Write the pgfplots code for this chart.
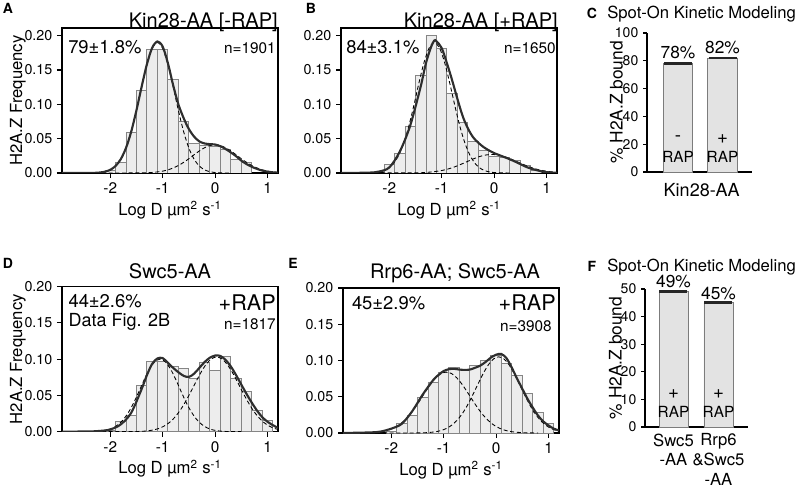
\documentclass[border=0pt]{standalone}
\usepackage{pgfplots}
\pgfplotsset{compat=1.18}
\usepackage{fontspec}
\setmainfont{TeX Gyre Heros}
\definecolor{barfill}{HTML}{EDEDED}
\definecolor{baredge}{HTML}{858585}
\definecolor{fitline}{HTML}{2E2E2E}
\definecolor{cbar}{HTML}{E3E3E3}
\definecolor{cedge}{HTML}{7C7C7C}

\pgfplotsset{
  hist/.style={
    scale only axis, width=162pt, height=108.75pt,
    xmin=-2.92, xmax=1.2, ymin=0,
    xtick={-2,-1,0,1}, ytick={0,0.05,0.10,0.15,0.20},
    scaled y ticks=false,
    tick pos=left, tick align=outside, major tick length=3.75pt,
    axis line style={line width=1.1pt},
    every tick/.style={black, line width=0.8pt},
    /pgf/number format/assume math mode=true,
    yticklabel style={font=\fontsize{10.7}{12}\selectfont, /pgf/number format/.cd, fixed, fixed zerofill, precision=2},
    xticklabel style={font=\fontsize{11.5}{13}\selectfont},
    xlabel={Log D µm\textsuperscript{2} s\textsuperscript{-1}},
    ylabel={H2A.Z Frequency},
    label style={font=\fontsize{12.5}{14}\selectfont},
    xlabel style={at={(axis description cs:0.5,-0.255)}, anchor=center},
    ylabel style={at={(axis description cs:-0.204,0.5)}, anchor=center},
    anchor=south west,
  },
  histbar/.style={ybar, bar width=0.2, fill=barfill, draw=baredge, line width=0.65pt},
  compcurve/.style={black, line width=0.65pt, smooth, no markers, dash pattern=on 3pt off 2pt},
  fitcurve/.style={fitline, line width=1.6pt, smooth, no markers},
  spot/.style={
    scale only axis, anchor=south west, ymin=0,
    axis lines=left, axis line style={-, line width=1pt},
    x axis line style={line width=1.6pt},
    tick align=outside, major tick length=3pt,
    every tick/.style={black, line width=0.8pt},
    /pgf/number format/assume math mode=true,
    ticklabel style={font=\fontsize{10.5}{12}\selectfont},
    ylabel={\% H2A.Z bound},
    label style={font=\fontsize{13}{15}\selectfont},
    clip=false,
  },
  spotbar/.style={ybar, fill=cbar, draw=cedge, line width=0.7pt,
    error bars/.cd, y dir=both, y explicit, error mark=|,
    error bar style={line width=1pt, black!80},
    error mark options={line width=1.1pt, mark size=10.5pt, black!85}},
}

\begin{document}
\begin{tikzpicture}
\useasboundingbox (0,0) rectangle (597pt,366.75pt);

% ---------------- A ----------------
\begin{axis}[hist, at={(46.5pt,237pt)}, ymax=0.2112]
\addplot[histbar] coordinates {(-2.0,0.004) (-1.8,0.016) (-1.6,0.059) (-1.4,0.120) (-1.2,0.180) (-1.0,0.180) (-0.8,0.136) (-0.6,0.075) (-0.4,0.043) (-0.2,0.040) (0.0,0.038) (0.2,0.034) (0.4,0.020) (0.6,0.016)};
\addplot[compcurve] coordinates {(-2.92,0) (-2.4,0.0001) (-2.3,0.0002) (-2.2,0.0007) (-2.1,0.0019) (-2.0,0.0046) (-1.9,0.0101) (-1.8,0.0200) (-1.7,0.0363) (-1.6,0.0602) (-1.5,0.0912) (-1.4,0.1258) (-1.3,0.1581) (-1.2,0.1815) (-1.1,0.190) (-1.0,0.1815) (-0.9,0.1581) (-0.8,0.1258) (-0.7,0.0912) (-0.6,0.0602) (-0.5,0.0363) (-0.4,0.0200) (-0.3,0.0101) (-0.2,0.0046) (-0.1,0.0019) (0.0,0.0007) (0.1,0.0002) (0.3,0)};
\addplot[compcurve] coordinates {(-2.92,0) (-1.6,0.0001) (-1.4,0.0002) (-1.3,0.0004) (-1.2,0.0008) (-1.1,0.0016) (-1.0,0.0027) (-0.9,0.0046) (-0.8,0.0073) (-0.7,0.0109) (-0.6,0.0155) (-0.5,0.0208) (-0.4,0.0266) (-0.3,0.0321) (-0.2,0.0368) (-0.1,0.0399) (0.0,0.041) (0.1,0.0399) (0.2,0.0368) (0.3,0.0321) (0.4,0.0266) (0.5,0.0208) (0.6,0.0155) (0.7,0.0109) (0.8,0.0073) (0.9,0.0046) (1.0,0.0027) (1.1,0.0016) (1.2,0.0008)};
\addplot[fitcurve] coordinates {(-2.92,0) (-2.5,0.0000) (-2.4,0.0001) (-2.3,0.0002) (-2.2,0.0007) (-2.1,0.0019) (-2.0,0.0046) (-1.9,0.0101) (-1.8,0.0200) (-1.7,0.0363) (-1.6,0.0602) (-1.5,0.0913) (-1.4,0.1260) (-1.3,0.1585) (-1.2,0.1823) (-1.1,0.1916) (-1.0,0.1842) (-0.9,0.160) (-0.8,0.128) (-0.7,0.100) (-0.6,0.080) (-0.5,0.064) (-0.4,0.053) (-0.3,0.046) (-0.2,0.043) (-0.1,0.042) (0.0,0.0415) (0.1,0.039) (0.2,0.035) (0.3,0.030) (0.4,0.0245) (0.5,0.018) (0.6,0.013) (0.7,0.009) (0.8,0.006) (0.9,0.0035) (1.0,0.002) (1.1,0.001) (1.2,0.0005)};
\end{axis}

% ---------------- B ----------------
\begin{axis}[hist, at={(255.75pt,237pt)}, ymax=0.2112, ylabel={}]
\addplot[histbar] coordinates {(-2.0,0.012) (-1.8,0.029) (-1.6,0.0685) (-1.4,0.142) (-1.2,0.200) (-1.0,0.181) (-0.8,0.116) (-0.6,0.0734) (-0.4,0.0465) (-0.2,0.033) (0.0,0.024) (0.2,0.022) (0.4,0.018) (0.6,0.011) (0.8,0.004)};
\addplot[compcurve] coordinates {(-2.92,0) (-2.34,0.0004) (-2.24,0.0010) (-2.14,0.0025) (-2.04,0.0057) (-1.94,0.0119) (-1.84,0.0228) (-1.74,0.0401) (-1.64,0.0644) (-1.54,0.0952) (-1.44,0.129) (-1.34,0.160) (-1.24,0.182) (-1.14,0.190) (-1.04,0.182) (-0.94,0.160) (-0.84,0.129) (-0.74,0.0952) (-0.64,0.0644) (-0.54,0.0401) (-0.44,0.0228) (-0.34,0.0119) (-0.24,0.0057) (-0.14,0.0025) (-0.04,0.0010) (0.06,0.0004) (0.3,0)};
\addplot[compcurve] coordinates {(-2.92,0) (-1.54,0.0002) (-1.34,0.0007) (-1.24,0.0012) (-1.14,0.0020) (-1.04,0.0031) (-0.94,0.0046) (-0.84,0.0067) (-0.74,0.0093) (-0.64,0.0124) (-0.54,0.0157) (-0.44,0.0191) (-0.34,0.0222) (-0.24,0.0248) (-0.14,0.0264) (-0.04,0.0270) (0.06,0.0264) (0.16,0.0248) (0.26,0.0222) (0.36,0.0191) (0.46,0.0157) (0.56,0.0124) (0.66,0.0093) (0.76,0.0067) (0.86,0.0046) (0.96,0.0031) (1.06,0.0020) (1.16,0.0012)};
\addplot[fitcurve] coordinates {(-2.92,0) (-2.4,0.0005) (-2.2,0.002) (-2.0,0.008) (-1.8,0.031) (-1.6,0.069) (-1.4,0.126) (-1.3,0.160) (-1.2,0.184) (-1.14,0.193) (-1.1,0.192) (-1.0,0.182) (-0.9,0.160) (-0.8,0.135) (-0.7,0.108) (-0.6,0.083) (-0.5,0.065) (-0.4,0.052) (-0.3,0.044) (-0.2,0.0377) (-0.1,0.033) (0.0,0.029) (0.1,0.026) (0.2,0.023) (0.3,0.020) (0.4,0.0166) (0.5,0.013) (0.6,0.0093) (0.7,0.0065) (0.8,0.0044) (0.9,0.0025) (1.0,0.0012) (1.2,0.0003)};
\end{axis}

% ---------------- D ----------------
\begin{axis}[hist, at={(46.5pt,43pt)}, ymax=0.2]
\addplot[histbar] coordinates {(-2.0,0.002) (-1.8,0.0139) (-1.6,0.0218) (-1.4,0.0635) (-1.2,0.0968) (-1.0,0.0968) (-0.8,0.090) (-0.6,0.0866) (-0.4,0.074) (-0.2,0.096) (0.0,0.085) (0.2,0.1038) (0.4,0.0728) (0.6,0.0551) (0.8,0.0288) (1.0,0.0149)};
\addplot[compcurve] coordinates {(-2.92,0) (-2.35,0.0002) (-2.25,0.0005) (-2.15,0.0012) (-2.05,0.0026) (-1.95,0.0052) (-1.85,0.0097) (-1.75,0.0167) (-1.65,0.0269) (-1.55,0.0401) (-1.45,0.0557) (-1.35,0.0720) (-1.25,0.0864) (-1.15,0.0964) (-1.05,0.1000) (-0.95,0.0964) (-0.85,0.0864) (-0.75,0.0720) (-0.65,0.0557) (-0.55,0.0401) (-0.45,0.0269) (-0.35,0.0167) (-0.25,0.0097) (-0.15,0.0052) (-0.05,0.0026) (0.05,0.0012) (0.15,0.0005) (0.25,0.0002) (0.5,0)};
\addplot[compcurve] coordinates {(-2.92,0) (-1.8,0.0000) (-1.47,0.0003) (-1.37,0.0006) (-1.27,0.0013) (-1.17,0.0025) (-1.07,0.0045) (-0.97,0.0078) (-0.87,0.0127) (-0.77,0.0197) (-0.67,0.0290) (-0.57,0.0407) (-0.47,0.0540) (-0.37,0.0682) (-0.27,0.0817) (-0.17,0.0929) (-0.07,0.1004) (0.03,0.1030) (0.13,0.1004) (0.23,0.0929) (0.33,0.0817) (0.43,0.0682) (0.53,0.0540) (0.63,0.0407) (0.73,0.0290) (0.83,0.0197) (0.93,0.0127) (1.03,0.0078) (1.13,0.0045) (1.23,0.0025)};
\addplot[fitcurve] coordinates {(-2.92,0) (-2.4,0.0003) (-2.2,0.001) (-2.0,0.003) (-1.8,0.010) (-1.6,0.026) (-1.4,0.059) (-1.3,0.078) (-1.2,0.0936) (-1.1,0.101) (-1.0,0.1015) (-0.9,0.095) (-0.8,0.088) (-0.7,0.082) (-0.6,0.077) (-0.5,0.0755) (-0.4,0.080) (-0.3,0.088) (-0.2,0.096) (-0.1,0.102) (0.0,0.105) (0.1,0.1045) (0.2,0.099) (0.3,0.090) (0.4,0.078) (0.5,0.065) (0.6,0.052) (0.7,0.040) (0.8,0.029) (0.9,0.020) (1.0,0.0137) (1.1,0.009) (1.2,0.0053)};
\end{axis}

% ---------------- E ----------------
\begin{axis}[hist, at={(257.25pt,42pt)}, ymax=0.2, ylabel={}]
\addplot[histbar] coordinates {(-2.0,0.002) (-1.8,0.0127) (-1.6,0.0242) (-1.4,0.0487) (-1.2,0.0704) (-1.0,0.0842) (-0.8,0.091) (-0.6,0.0875) (-0.4,0.0934) (-0.2,0.1003) (0.0,0.107) (0.2,0.0957) (0.4,0.0796) (0.6,0.0542) (0.8,0.0288) (1.0,0.0127)};
\addplot[compcurve] coordinates {(-2.92,0) (-2.45,0.0003) (-2.35,0.0007) (-2.25,0.0013) (-2.15,0.0024) (-2.05,0.0042) (-1.95,0.0071) (-1.85,0.0113) (-1.75,0.0173) (-1.65,0.0250) (-1.55,0.0345) (-1.45,0.0453) (-1.35,0.0566) (-1.25,0.0673) (-1.15,0.0761) (-1.05,0.0820) (-0.95,0.0840) (-0.85,0.0820) (-0.75,0.0761) (-0.65,0.0673) (-0.55,0.0566) (-0.45,0.0453) (-0.35,0.0345) (-0.25,0.0250) (-0.15,0.0173) (-0.05,0.0113) (0.05,0.0071) (0.15,0.0042) (0.25,0.0024) (0.35,0.0013) (0.45,0.0007) (0.55,0.0003) (0.8,0)};
\addplot[compcurve] coordinates {(-2.92,0) (-1.8,0.0000) (-1.45,0.0002) (-1.35,0.0004) (-1.25,0.0009) (-1.15,0.0018) (-1.05,0.0034) (-0.95,0.0062) (-0.85,0.0106) (-0.75,0.0171) (-0.65,0.0261) (-0.55,0.0378) (-0.45,0.0518) (-0.35,0.0668) (-0.25,0.0814) (-0.15,0.0938) (-0.05,0.1021) (0.05,0.1050) (0.15,0.1021) (0.25,0.0938) (0.35,0.0814) (0.45,0.0668) (0.55,0.0518) (0.65,0.0378) (0.75,0.0261) (0.85,0.0171) (0.95,0.0106) (1.05,0.0062) (1.15,0.0034) (1.25,0.0018)};
\addplot[fitcurve] coordinates {(-2.92,0) (-2.4,0.0008) (-2.2,0.002) (-2.0,0.006) (-1.8,0.0126) (-1.6,0.030) (-1.4,0.053) (-1.2,0.073) (-1.1,0.080) (-1.0,0.0855) (-0.9,0.088) (-0.8,0.0885) (-0.7,0.0875) (-0.6,0.087) (-0.5,0.0875) (-0.4,0.090) (-0.3,0.093) (-0.2,0.098) (-0.1,0.104) (0.0,0.108) (0.1,0.109) (0.2,0.103) (0.3,0.090) (0.4,0.075) (0.5,0.061) (0.6,0.047) (0.7,0.035) (0.8,0.024) (0.9,0.016) (1.0,0.0104) (1.1,0.006) (1.2,0.0035)};
\end{axis}

% ---------------- C ----------------
\begin{axis}[spot, at={(485.25pt,237.75pt)}, width=78.75pt, height=104.25pt,
  xmin=0.303, xmax=2.663, ymax=100, ytick={0,20,40,60,80,100}, xtick=\empty,
  xlabel={Kin28-AA},
  xlabel style={at={(axis description cs:0.521,-0.13)}, anchor=center, font=\fontsize{13.5}{15}\selectfont},
  ylabel style={at={(axis description cs:-0.29,0.5)}, anchor=center}]
\addplot[bar width=0.663, spotbar] coordinates {(1,78) +- (0,0.5) (2,82) +- (0,0.5)};
\node[font=\fontsize{13}{15}\selectfont] at (axis cs:1,85.6) {78\%};
\node[font=\fontsize{13}{15}\selectfont] at (axis cs:2,89.6) {82\%};
\node[font=\fontsize{14}{15}\selectfont] at (axis cs:1,24) {-};
\node[font=\fontsize{14}{15}\selectfont] at (axis cs:2,24) {+};
\node[font=\fontsize{11.5}{13}\selectfont] at (axis cs:1,10.8) {RAP};
\node[font=\fontsize{11.5}{13}\selectfont] at (axis cs:2,10.8) {RAP};
\end{axis}

% ---------------- F ----------------
\begin{axis}[spot, at={(483.75pt,46.5pt)}, width=77.25pt, height=103.5pt,
  xmin=0.367, xmax=2.656, ymax=50, ytick={0,10,20,30,40,50},
  xtick={1,2}, xticklabels={{Swc5\\-AA},{Rrp6\\\&Swc5\\-AA}},
  x tick style={draw=none},
  xticklabel style={align=center, font=\fontsize{12.5}{14.8}\selectfont, yshift=1.5pt},
  ylabel style={at={(axis description cs:-0.286,0.5)}, anchor=center}]
\addplot[bar width=0.644, spotbar] coordinates {(1,49) +- (0,0.3) (2,45) +- (0,0.3)};
\node[font=\fontsize{13}{15}\selectfont] at (axis cs:1,52.6) {49\%};
\node[font=\fontsize{13}{15}\selectfont] at (axis cs:2,48.4) {45\%};
\node[font=\fontsize{14}{15}\selectfont] at (axis cs:1,11.8) {+};
\node[font=\fontsize{14}{15}\selectfont] at (axis cs:2,11.8) {+};
\node[font=\fontsize{11.5}{13}\selectfont] at (axis cs:1,5.5) {RAP};
\node[font=\fontsize{11.5}{13}\selectfont] at (axis cs:2,5.5) {RAP};
\end{axis}

% ---------------- panel letters and titles ----------------
\begin{scope}[every node/.style={inner sep=0pt}]
\node[font=\bfseries\fontsize{10.5}{12}\selectfont] at (6pt,360.75pt) {A};
\node[font=\bfseries\fontsize{10.5}{12}\selectfont] at (233.25pt,360.75pt) {B};
\node[font=\bfseries\fontsize{10.5}{12}\selectfont] at (444pt,357pt) {C};
\node[font=\bfseries\fontsize{10.5}{12}\selectfont] at (6pt,169.5pt) {D};
\node[font=\bfseries\fontsize{10.5}{12}\selectfont] at (219.75pt,169.5pt) {E};
\node[font=\bfseries\fontsize{10.5}{12}\selectfont] at (444pt,167.25pt) {F};

\node[anchor=base east, font=\fontsize{15}{18}\selectfont] at (208.5pt,346pt) {Kin28-AA [-RAP]};
\node[anchor=base east, font=\fontsize{15}{18}\selectfont] at (418.5pt,346pt) {Kin28-AA [+RAP]};
\node[anchor=base west, font=\fontsize{12.5}{15}\selectfont] at (455.25pt,352.5pt) {Spot-On Kinetic Modeling};
\node[anchor=base, font=\fontsize{15}{18}\selectfont] at (127.5pt,158pt) {Swc5-AA};
\node[anchor=base, font=\fontsize{15}{18}\selectfont] at (341.25pt,157.5pt) {Rrp6-AA; Swc5-AA};
\node[anchor=base west, font=\fontsize{12.5}{15}\selectfont] at (455.25pt,162.75pt) {Spot-On Kinetic Modeling};

\node[anchor=base west, font=\fontsize{13.8}{15}\selectfont] at (51pt,326.6pt) {79±1.8\%};
\node[anchor=base east, font=\fontsize{11.5}{13}\selectfont] at (207pt,326.7pt) {n=1901};
\node[anchor=base west, font=\fontsize{13.8}{15}\selectfont] at (259.5pt,326.6pt) {84±3.1\%};
\node[anchor=base east, font=\fontsize{11.5}{13}\selectfont] at (417pt,326.7pt) {n=1650};

\node[anchor=base west, font=\fontsize{13.8}{15}\selectfont] at (51.2pt,136pt) {44±2.6\%};
\node[anchor=base west, font=\fontsize{13.5}{15}\selectfont] at (51.2pt,121.5pt) {Data Fig. 2B};
\node[anchor=base east, font=\fontsize{16.2}{18}\selectfont] at (207pt,133.5pt) {+RAP};
\node[anchor=base east, font=\fontsize{11.5}{13}\selectfont] at (207pt,119.7pt) {n=1817};

\node[anchor=base west, font=\fontsize{13.8}{15}\selectfont] at (263.8pt,134.8pt) {45±2.9\%};
\node[anchor=base east, font=\fontsize{16.2}{18}\selectfont] at (417pt,133.5pt) {+RAP};
\node[anchor=base east, font=\fontsize{11.5}{13}\selectfont] at (414pt,117.75pt) {n=3908};
\end{scope}
\end{tikzpicture}
\end{document}
